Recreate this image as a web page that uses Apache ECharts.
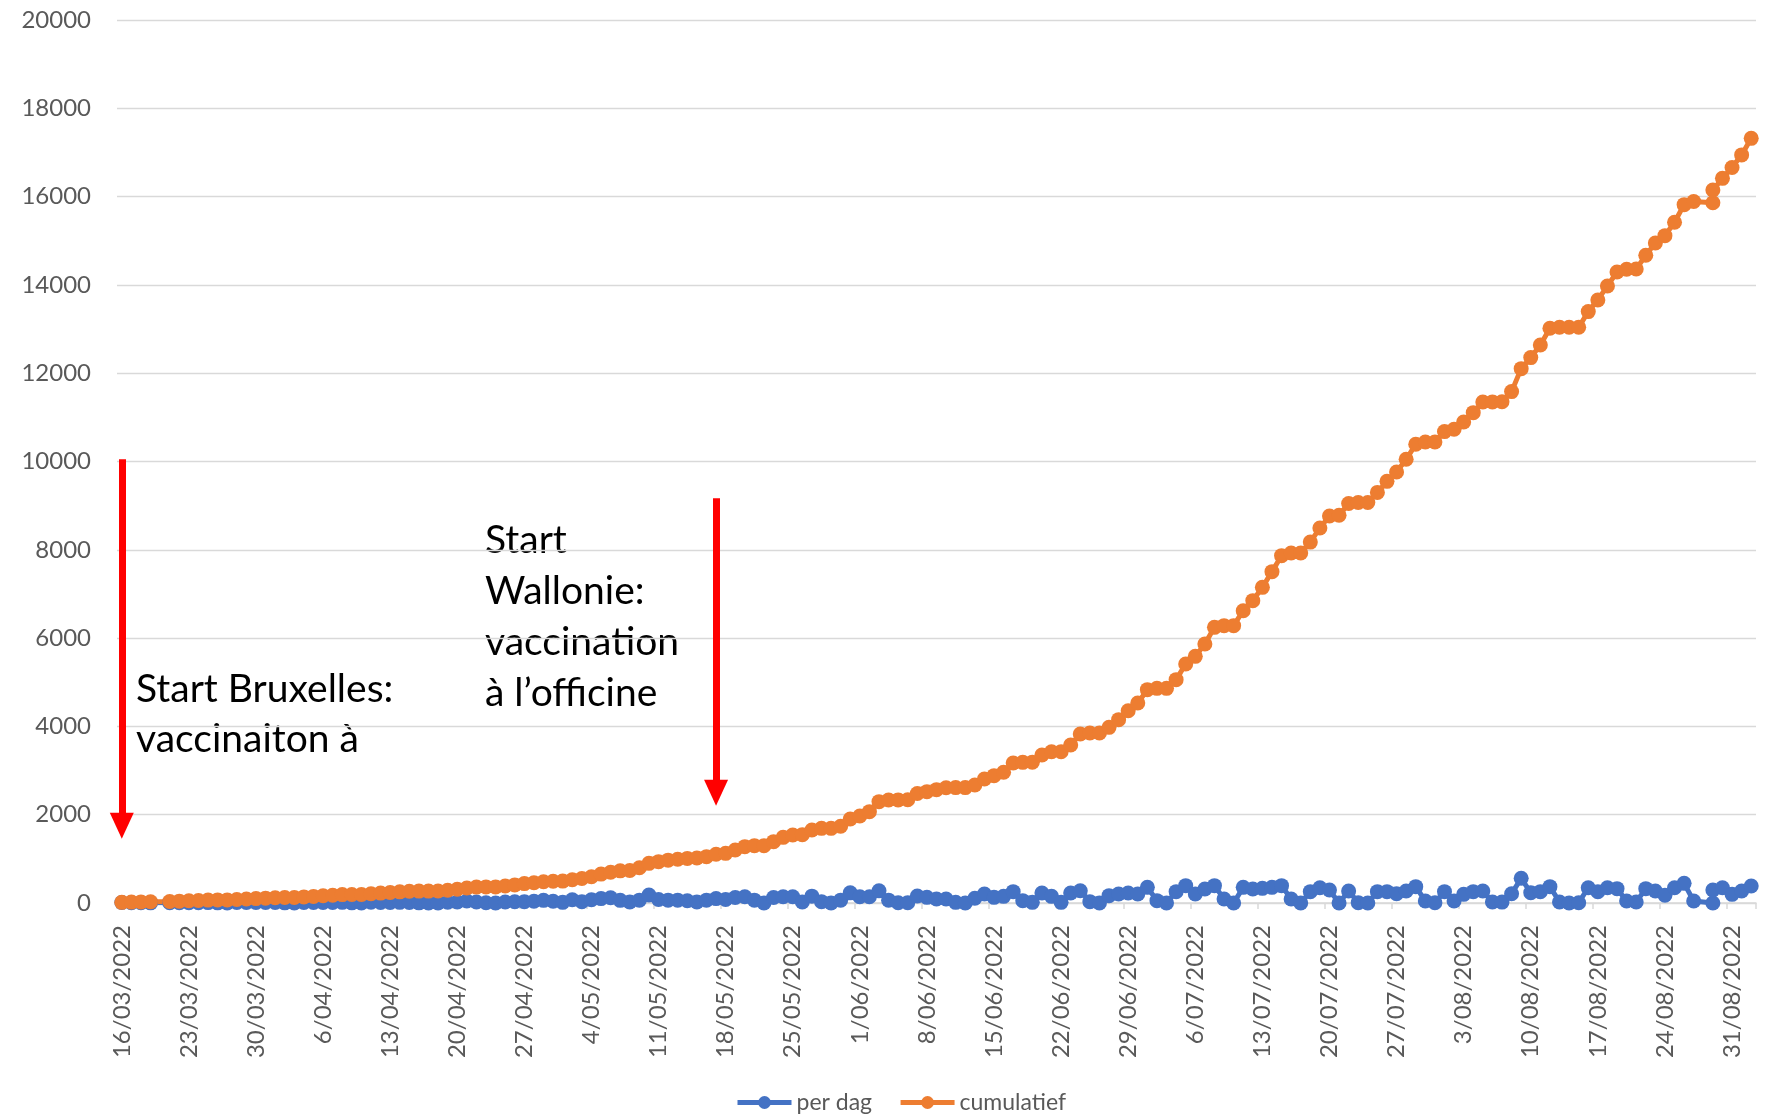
<!DOCTYPE html>
<html>
<head>
<meta charset="utf-8">
<script src="https://cdn.jsdelivr.net/npm/echarts@6/dist/echarts.min.js"></script>
<style>
  html, body { margin: 0; padding: 0; background: #fff; }
  #chart { width: 1768px; height: 1116px; }
</style>
</head>
<body>
<div id="chart"></div>
<script>
// every calendar day on the axis, 16/03/2022 .. 02/09/2022
var days = [];
(function () {
  var d = new Date(2022, 2, 16);
  var end = new Date(2022, 8, 2);
  while (d <= end) {
    var mm = ("0" + (d.getMonth() + 1)).slice(-2);
    days.push(d.getDate() + "/" + mm + "/" + d.getFullYear());
    d.setDate(d.getDate() + 1);
  }
})();

// rows in the sheet: 20/03 and 28/08 have no row, 29/08 has two rows
var rowDays = days.filter(function (d) { return d !== "20/03/2022" && d !== "28/08/2022"; });
rowDays.splice(rowDays.indexOf("29/08/2022"), 0, "29/08/2022");

var perDag = [
  10, 5, 6, 3,
  8, 7,
  8, 8, 9, 4, 0, 10, 10,
  10, 10, 11, 4, 0, 14, 12,
  13, 14, 15, 4, 0, 16, 14,
  14, 15, 14, 4, 0, 2, 18,
  22, 45, 22, 6, 0, 24, 28,
  30, 40, 60, 40, 15, 75, 30,
  75, 100, 120, 60, 25, 65, 180,
  80, 65, 65, 50, 25, 65, 100,
  80, 125, 140, 65, 0, 125, 140,
  140, 25, 155, 30, 0, 65, 230,
  140, 140, 275, 65, 5, 8, 160,
  128, 91, 91, 15, 0, 106, 204,
  128, 151, 257, 53, 15, 226, 151,
  15, 226, 279, 30, 0, 166, 204,
  226, 204, 355, 53, 0, 257, 393,
  204, 317, 393, 91, 0, 355, 317,
  332, 355, 393, 91, 0, 257, 347,
  294, 0, 272, 8, 0, 257, 257,
  211, 272, 370, 45, 5, 257, 45,
  196, 257, 272, 23, 20, 211, 559,
  234, 257, 370, 23, 0, 5, 347,
  257, 347, 325, 45, 23, 325, 272,
  174, 347, 445, 45,
  0, 294,
  347, 196, 272, 385
];

var cumulatief = [
  15, 20, 25, 28,
  35, 42,
  50, 58, 66, 70, 70, 80, 90,
  100, 110, 120, 124, 124, 138, 150,
  163, 176, 190, 194, 194, 210, 224,
  238, 252, 266, 270, 270, 272, 290,
  310, 340, 360, 365, 365, 385, 410,
  440, 460, 480, 492, 496, 525, 555,
  595, 655, 695, 728, 735, 800, 898,
  936, 970, 990, 1010, 1018, 1050, 1105,
  1125, 1200, 1276, 1299, 1299, 1389, 1487,
  1540, 1548, 1653, 1691, 1691, 1740, 1903,
  1971, 2069, 2295, 2333, 2335, 2338, 2480,
  2522, 2567, 2612, 2614, 2614, 2673, 2809,
  2884, 2960, 3170, 3186, 3190, 3352, 3425,
  3428, 3579, 3828, 3851, 3851, 3979, 4153,
  4356, 4530, 4832, 4862, 4862, 5059, 5413,
  5587, 5866, 6244, 6282, 6282, 6621, 6848,
  7150, 7505, 7867, 7928, 7928, 8175, 8495,
  8766, 8781, 9050, 9070, 9070, 9300, 9550,
  9763, 10050, 10390, 10443, 10443, 10677, 10729,
  10895, 11107, 11348, 11350, 11352, 11583, 12103,
  12353, 12640, 13017, 13040, 13040, 13042, 13395,
  13659, 13976, 14293, 14353, 14360, 14670, 14950,
  15115, 15420, 15818, 15890,
  15860, 16149,
  16414, 16660, 16945, 17320
];

var seriesNames = ["per dag", "cumulatief"];
var yTicks = { min: 0, max: 20000, step: 2000 };

// annotation arrows: [day, from, to]
var arrows = [
  ["16/03/2022", 10050, 1750],
  ["17/05/2022", 9170, 2500]
];

var font = "Lato";
var grey = "#595959";
var gridColor = "#d9d9d9";

function rows(values) {
  return rowDays.map(function (d, k) { return [days.indexOf(d), values[k]]; });
}

function lineSeries(name, values, color) {
  return {
    name: name,
    type: "line",
    data: rows(values),
    symbol: "circle",
    symbolSize: 15,
    showAllSymbol: true,
    color: color,
    lineStyle: { width: 5, color: color },
    itemStyle: { color: color }
  };
}

var chart = echarts.init(document.getElementById("chart"));
var cum = lineSeries(seriesNames[1], cumulatief, "#ED7D31");
cum.markLine = {
  silent: true,
  symbol: ["none", "triangle"],
  symbolSize: [24, 26],
  label: { show: false },
  lineStyle: { color: "#FF0000", width: 7, type: "solid" },
  data: arrows.map(function (a) {
    return [{ coord: [a[0], a[1]] }, { coord: [a[0], a[2]] }];
  })
};

var option = {
  animation: false,
  grid: { left: 117, right: 12, top: 20, bottom: 213, outerBoundsMode: "none" },
  legend: {
    left: 730,
    top: 1086,
    itemWidth: 54,
    itemHeight: 16,
    itemGap: 26,
    lineStyle: { width: 5 },
    textStyle: { fontFamily: font, fontSize: 23, color: grey },
    data: seriesNames
  },
  xAxis: {
    type: "category",
    data: days,
    boundaryGap: true,
    axisLine: { lineStyle: { color: gridColor, width: 1.5 } },
    axisTick: { show: true, interval: 6, length: 6, lineStyle: { color: gridColor, width: 1.5 } },
    axisLabel: {
      interval: 6,
      rotate: 90,
      margin: 22,
      fontFamily: font,
      fontSize: 24,
      color: grey
    }
  },
  yAxis: {
    type: "value",
    min: yTicks.min,
    max: yTicks.max,
    interval: yTicks.step,
    axisLine: { show: false },
    axisTick: { show: false },
    splitLine: { lineStyle: { color: gridColor, width: 1.3 } },
    axisLabel: {
      margin: 26,
      fontFamily: font,
      fontSize: 24,
      color: grey,
      formatter: function (v) { return String(v); }
    }
  },
  series: [
    lineSeries(seriesNames[0], perDag, "#4472C4"),
    cum
  ],
  graphic: [
    {
      type: "text",
      left: 136,
      top: 664,
      style: {
        text: "Start Bruxelles:\nvaccinaiton à",
        font: "39px Lato",
        fill: "#000",
        lineHeight: 50
      }
    },
    {
      type: "text",
      left: 485,
      top: 515,
      style: {
        text: "Start\nWallonie:\nvaccination\nà l’officine",
        font: "39px Lato",
        fill: "#000",
        lineHeight: 51
      }
    }
  ]
};
chart.setOption(option);
</script>
</body>
</html>
